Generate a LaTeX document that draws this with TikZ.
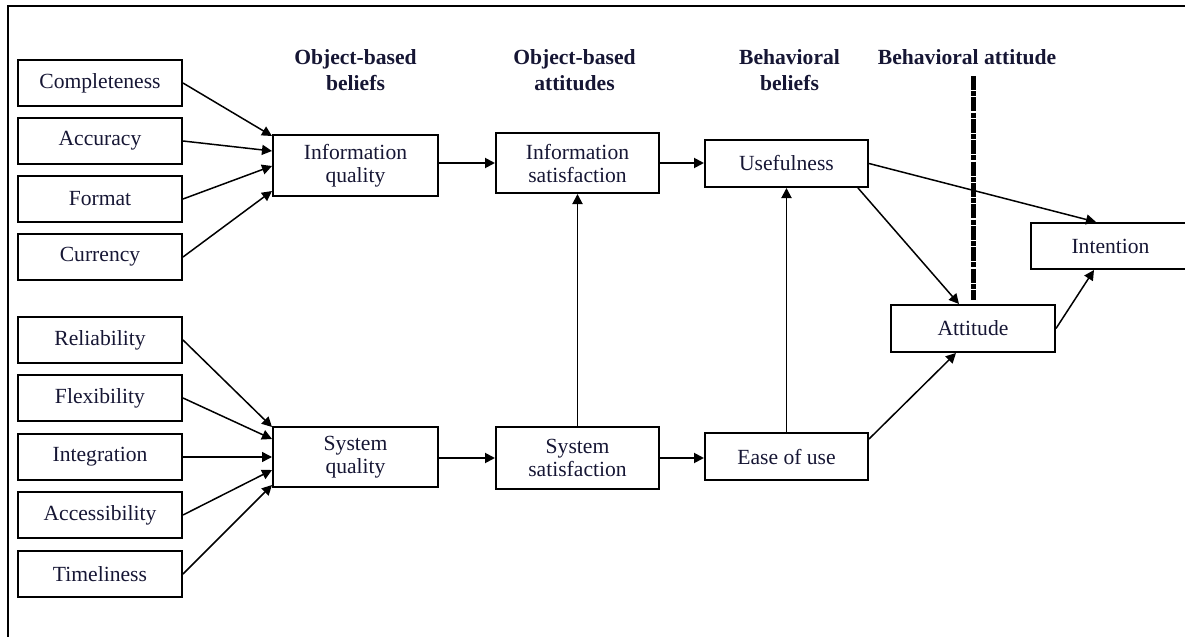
\documentclass[tikz,border=0pt]{standalone}
\usepackage{fontspec}
\setmainfont{Liberation Serif}
\usetikzlibrary{arrows.meta,calc}
\definecolor{ink}{RGB}{22,22,52}
\begin{document}
\begin{tikzpicture}[x=0.5pt,y=-0.5pt,
  bx/.style={draw, line width=1pt, rectangle, inner sep=0pt, align=center,
             text=ink, font=\fontsize{10.8}{11.5}\selectfont},
  lb/.style={bx, minimum width=82pt, minimum height=23pt},
  hd/.style={align=center, text=ink, inner sep=0pt,
             font=\fontsize{10.8}{13}\selectfont\bfseries},
  arr/.style={-{Triangle[length=5pt,width=5pt]}, line width=0.75pt},
  stem/.style={arr, line width=0.95pt},
  sep/.style={line width=2.5pt, dash pattern=on 7pt off 0.6pt on 2.5pt off 0.6pt},
]
\useasboundingbox (0,0) rectangle (1185,637);

% frame
\coordinate (fl) at (8,650);
\coordinate (ft) at (8,6);
\coordinate (fr) at (1200,6);
\draw[line width=1pt] (fl) -- (ft) -- (fr);

% column headings
\node[hd] (h1) at (355.5,70) {Object-based\\beliefs};
\node[hd] (h2) at (574.5,70) {Object-based\\attitudes};
\node[hd] (h3) at (789.5,70) {Behavioral\\beliefs};
\node[hd] (h4) at (967,57) {Behavioral attitude};

% information quality dimensions
\node[lb] (c1) at (100,83)  {Completeness};
\node[lb] (c2) at (100,141) {Accuracy};
\node[lb] (c3) at (100,199) {Format};
\node[lb] (c4) at (100,257) {Currency};

% system quality dimensions
\node[lb] (r1) at (100,340) {Reliability};
\node[lb] (r2) at (100,398) {Flexibility};
\node[lb] (r3) at (100,457) {Integration};
\node[lb] (r4) at (100,515) {Accessibility};
\node[lb] (r5) at (100,574) {Timeliness};

% constructs
\node[bx, minimum width=82.5pt, minimum height=30.5pt] (iq) at (355.5,165.5) {Information\\quality};
\node[bx, minimum width=82.5pt, minimum height=30pt]   (sq) at (355.5,457)   {System\\quality};
\node[bx, minimum width=81.5pt, minimum height=30pt]   (is) at (577.5,163)   {Information\\satisfaction};
\node[bx, minimum width=81.5pt, minimum height=31pt]   (ss) at (577.5,458)   {System\\satisfaction};
\node[bx, minimum width=81.5pt, minimum height=23.5pt] (us) at (786.5,163.5) {Usefulness};
\node[bx, minimum width=81.5pt, minimum height=23.5pt] (eu) at (786.5,456.5) {Ease of use};
\node[bx, minimum width=82pt,   minimum height=23.5pt] (at) at (973,328.5)   {Attitude};
\node[bx, minimum width=79.5pt, minimum height=23pt]   (intn) at (1110.5,246) {Intention};

% behavioral attitude divider
\coordinate (dtop) at (973,76);
\draw[sep] (dtop) -- ($(at.north)+(0,-4)$);

% fan-in to information quality
\draw[arr] (c1.east) -- ($(iq.north west)+(0,2)$);
\draw[arr] (c2.east) -- ($(iq.north west)+(0,17)$);
\draw[arr] (c3.east) -- ($(iq.north west)+(0,32)$);
\draw[arr] (c4.east) -- ($(iq.north west)+(0,57)$);

% fan-in to system quality
\draw[arr] (r1.east) -- ($(sq.north west)+(0,1)$);
\draw[arr] (r2.east) -- ($(sq.north west)+(0,13)$);
\draw[arr] (r3.east) -- (sq.west |- r3.east);
\draw[arr] (r4.east) -- ($(sq.north west)+(0,44)$);
\draw[arr] (r5.east) -- ($(sq.north west)+(0,59)$);

% main chain
\draw[stem] (iq.east |- is.west) -- (is.west);
\draw[stem] (is.east) -- (us.west |- is.east);
\draw[stem] (sq.east |- ss.west) -- (ss.west);
\draw[stem] (ss.east) -- (eu.west |- ss.east);
\draw[stem] (ss.north) -- (is.south);
\draw[stem] (eu.north) -- (us.south);
\draw[arr] (us.east) -- ($(intn.north west)+(66,0)$);
\draw[arr] ($(us.south east)+(-11,0)$) -- ($(at.north west)+(69,0)$);
\draw[arr] ($(eu.north east)+(0,7)$) -- ($(at.south west)+(66,0)$);
\draw[arr] (at.east) -- ($(intn.south west)+(64,0)$);
\end{tikzpicture}
\end{document}
